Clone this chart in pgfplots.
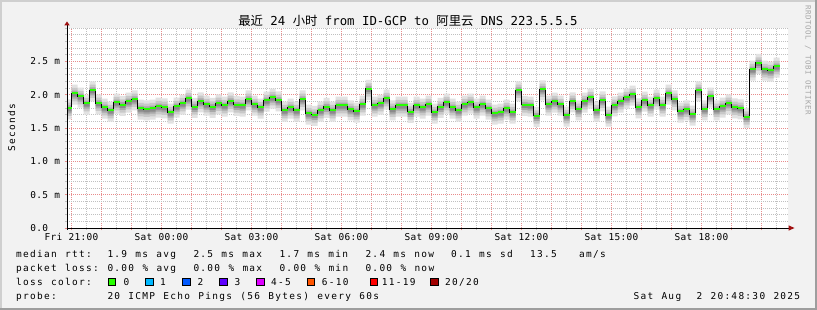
\documentclass[border=0pt]{standalone}
\usepackage{pgfplots}
\pgfplotsset{compat=1.18}
\usepackage{pgfplotstable}
\usepgfplotslibrary{fillbetween}
\usepackage{fontspec}
\setmainfont{DejaVu Sans Mono}
\newfontfamily\cjk{Noto Sans CJK SC}
\definecolor{bgc}{HTML}{F2F2F2}
\definecolor{shadea}{HTML}{CFCFCF}
\definecolor{shadeb}{HTML}{9E9E9E}
\definecolor{mgrid}{RGB}{232,140,140}
\definecolor{mingrid}{RGB}{192,192,192}
\definecolor{arrowc}{HTML}{A01010}
\definecolor{c0}{HTML}{26FF00}
\definecolor{c1}{HTML}{00B8FF}
\definecolor{c2}{HTML}{0059FF}
\definecolor{c3}{HTML}{5E00FF}
\definecolor{c4}{HTML}{DD00FF}
\definecolor{c6}{HTML}{FF5500}
\definecolor{c11}{HTML}{FF0000}
\definecolor{c20}{HTML}{A10000}
\definecolor{s1}{HTML}{E2E2E2}
\definecolor{s2}{HTML}{C8C8C8}
\definecolor{s3}{HTML}{A8A8A8}
\definecolor{s4}{HTML}{8A8A8A}
\ExplSyntaxOn
\NewDocumentCommand\mstr{O{7}m}{\hbox{\str_map_inline:nn {#2} {\hbox_to_wd:nn {#1bp} {##1\hss}}}}
\ExplSyntaxOff
\newcommand\legfont{\fontsize{9.5}{11}\selectfont}
\newcommand\tk[3]{\node[anchor=base west,inner sep=0pt,font=\legfont] at (#1bp,#2bp) {\mstr{#3}};}
\newcommand\tkraw[3]{\node[anchor=base west,inner sep=0pt,font=\legfont] at (#1bp,#2bp) {#3};}
\newcommand\lbox[2]{\filldraw[fill=#2,draw=black,line width=0.7bp] (#1bp,24.3bp) rectangle ++(7.3bp,7.3bp);}
\pgfplotstableread{
x m
-0.157 1.80
0.0 2.02
0.2 1.975
0.4 1.87
0.6 2.07
0.8 1.875
1.0 1.81
1.2 1.765
1.4 1.885
1.6 1.85
1.8 1.90
2.0 1.935
2.2 1.795
2.4 1.785
2.6 1.795
2.8 1.825
3.0 1.815
3.2 1.735
3.4 1.825
3.6 1.87
3.8 1.945
4.0 1.82
4.2 1.905
4.4 1.855
4.6 1.82
4.8 1.875
5.0 1.84
5.2 1.905
5.4 1.85
5.6 1.84
5.8 1.935
6.0 1.855
6.2 1.81
6.4 1.915
6.6 1.96
6.8 1.92
7.0 1.765
7.2 1.81
7.4 1.765
7.6 1.935
7.8 1.72
8.0 1.70
8.2 1.765
8.4 1.82
8.6 1.765
8.8 1.84
9.0 1.84
9.2 1.785
9.4 1.75
9.6 1.855
9.8 2.09
10.0 1.84
10.2 1.87
10.4 1.945
10.6 1.785
10.8 1.84
11.0 1.84
11.2 1.745
11.4 1.84
11.6 1.81
11.8 1.855
12.0 1.735
12.2 1.82
12.4 1.885
12.6 1.81
12.8 1.765
13.0 1.855
13.2 1.885
13.4 1.81
13.6 1.855
13.8 1.795
14.0 1.72
14.2 1.735
14.4 1.795
14.6 1.735
14.8 2.07
15.0 1.85
15.2 1.84
15.4 1.685
15.6 2.085
15.8 1.855
16.0 1.90
16.2 1.855
16.4 1.69
16.6 1.905
16.8 1.785
17.0 1.90
17.2 1.96
17.4 1.765
17.6 1.92
17.8 1.69
18.0 1.845
18.2 1.90
18.4 1.96
18.6 2.005
18.8 1.815
19.0 1.915
19.2 1.84
19.4 1.945
19.6 1.84
19.8 2.02
20.0 1.935
20.2 1.75
20.4 1.785
20.6 1.705
20.8 2.07
21.0 1.785
21.2 1.975
21.4 1.785
21.6 1.825
21.8 1.875
22.0 1.815
22.2 1.80
22.4 1.67
22.6 2.38
22.8 2.48
23.0 2.38
23.2 2.365
23.4 2.425
23.6 2.425
}\data
\pagecolor{bgc}
\begin{document}%
\begin{tikzpicture}
\begin{axis}[
  at={(67bp,82bp)}, anchor=south west,
  scale only axis, width=721bp, height=200bp,
  xmin=-0.157, xmax=23.877, ymin=0, ymax=3,
  axis line style={draw=none},
  axis background/.style={fill=white},
  xtick={0,1,...,23},
  xticklabels={\mstr[6]{Fri 21:00},,,\mstr[6]{Sat 00:00},,,\mstr[6]{Sat 03:00},,,\mstr[6]{Sat 06:00},,,\mstr[6]{Sat 09:00},,,\mstr[6]{Sat 12:00},,,\mstr[6]{Sat 15:00},,,\mstr[6]{Sat 18:00},,},
  minor xtick={0.5,1.5,...,23.5},
  ytick={0,0.5,...,2.5},
  yticklabels={\mstr[6]{0.0},\mstr[6]{0.5 m},\mstr[6]{1.0 m},\mstr[6]{1.5 m},\mstr[6]{2.0 m},\mstr[6]{2.5 m}},
  minor ytick={0.1,0.2,...,2.95},
  grid=both,
  major grid style={draw=mgrid, dash pattern=on 1bp off 1bp, line width=0.8bp},
  minor grid style={draw=mingrid, dash pattern=on 1bp off 1bp, line width=0.8bp},
  tick pos=left, tick align=outside,
  major tick length=2.5bp, minor tick length=2bp,
  major tick style={draw=mgrid, line width=0.8bp},
  minor tick style={draw=mingrid, line width=0.8bp},
  xticklabel style={font=\legfont, anchor=north, inner sep=0pt, yshift=-2.8bp},
  yticklabel style={font=\legfont, anchor=east, inner sep=0pt, text width=30bp, align=left, xshift=-4bp},
]
\addplot[name path=u1, draw=none, const plot, forget plot] table[x=x, y expr=\thisrow{m}+0.13]{\data};
\addplot[name path=d1, draw=none, const plot, forget plot] table[x=x, y expr=\thisrow{m}-0.17]{\data};
\addplot[fill=s1, draw=none] fill between[of=u1 and d1];
\addplot[name path=u2, draw=none, const plot, forget plot] table[x=x, y expr=\thisrow{m}+0.08]{\data};
\addplot[name path=d2, draw=none, const plot, forget plot] table[x=x, y expr=\thisrow{m}-0.12]{\data};
\addplot[fill=s2, draw=none] fill between[of=u2 and d2];
\addplot[name path=u3, draw=none, const plot, forget plot] table[x=x, y expr=\thisrow{m}+0.04]{\data};
\addplot[name path=d3, draw=none, const plot, forget plot] table[x=x, y expr=\thisrow{m}-0.08]{\data};
\addplot[fill=s3, draw=none] fill between[of=u3 and d3];
\addplot[name path=u4, draw=none, const plot, forget plot] table[x=x, y expr=\thisrow{m}+0.01]{\data};
\addplot[name path=d4, draw=none, const plot, forget plot] table[x=x, y expr=\thisrow{m}-0.05]{\data};
\addplot[fill=s4, draw=none] fill between[of=u4 and d4];
\addplot[black, line width=0.9bp, const plot] table[x=x, y=m]{\data};
\addplot[c0, line width=2.2bp, jump mark left] table[x=x, y=m]{\data};
\end{axis}
% frame
\fill[shadea] (0,308bp) rectangle (817bp,310bp);
\fill[shadea] (0,0) rectangle (2bp,310bp);
\fill[shadeb] (0,0) rectangle (817bp,2bp);
\fill[shadeb] (815bp,0) rectangle (817bp,310bp);
% axis lines with arrows
\draw[black, line width=0.9bp] (66.5bp,82bp) -- (789bp,82bp);
\fill[arrowc] (788.5bp,79.3bp) -- (794.5bp,82bp) -- (788.5bp,84.7bp) -- cycle;
\draw[black, line width=0.9bp] (67bp,80bp) -- (67bp,285bp);
\fill[arrowc] (64.3bp,284.7bp) -- (67bp,288.5bp) -- (69.7bp,284.7bp) -- cycle;
% title
\node[anchor=base, inner sep=0pt, font=\fontsize{12.4}{14}\selectfont] at (408bp,284bp) {{\cjk 最近} 24 {\cjk 小时} from ID-GCP to {\cjk 阿里云} DNS 223.5.5.5};
% y label
\node[rotate=90, anchor=base west, inner sep=0pt, font=\legfont] at (15bp,158bp) {\mstr{Seconds}};
% watermark
\node[rotate=-90, anchor=base west, inner sep=0pt, font=\fontsize{7.5}{9}\selectfont, text=black!35] at (805.5bp,305bp) {\mstr[5]{RRDTOOL / TOBI OETIKER}};
% legend row 1
\tk{16}{52.5}{median rtt:}
\tk{107.3}{52.5}{1.9 ms avg}
\tk{193.3}{52.5}{2.5 ms max}
\tk{279.3}{52.5}{1.7 ms min}
\tk{365.3}{52.5}{2.4 ms now}
\tk{451}{52.5}{0.1 ms sd}
\tk{530}{52.5}{13.5}
\tk{579}{52.5}{am/s}
% row 2
\tk{16}{38.5}{packet loss:}
\tk{107.3}{38.5}{0.00}\tkraw{142.3}{38.5}{\%}\tk{156.3}{38.5}{avg}
\tk{193.3}{38.5}{0.00}\tkraw{228.3}{38.5}{\%}\tk{242.3}{38.5}{max}
\tk{279.3}{38.5}{0.00}\tkraw{314.3}{38.5}{\%}\tk{328.3}{38.5}{min}
\tk{365.3}{38.5}{0.00}\tkraw{400.3}{38.5}{\%}\tk{414.3}{38.5}{now}
% row 3
\tk{16}{24.5}{loss color:}
\lbox{108.3}{c0}\tk{123.3}{24.5}{0}
\lbox{145.7}{c1}\tk{160}{24.5}{1}
\lbox{182.7}{c2}\tk{197.3}{24.5}{2}
\lbox{219.7}{c3}\tk{234.3}{24.5}{3}
\lbox{256.7}{c4}\tk{271}{24.5}{4-5}
\lbox{307.3}{c6}\tk{321.7}{24.5}{6-10}
\lbox{370}{c11}\tk{381.7}{24.5}{11-19}
\lbox{430.7}{c20}\tk{445}{24.5}{20/20}
% row 4
\tk{16}{10.5}{probe:}
\tk{107.3}{10.5}{20 ICMP Echo Pings (56 Bytes) every 60s}
\tk{633.3}{10.5}{Sat Aug}
\tk{696.3}{10.5}{2 20:48:30 2025}
\pgfresetboundingbox
\useasboundingbox (0,0) rectangle (817bp,310bp);
\end{tikzpicture}%
\end{document}
